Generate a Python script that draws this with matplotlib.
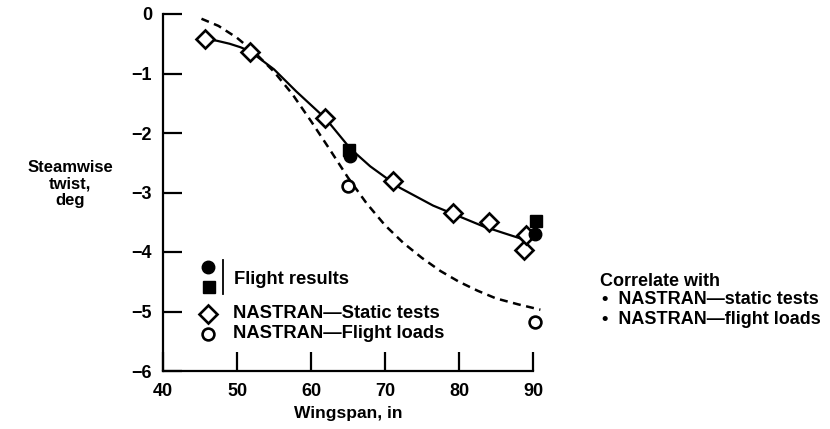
import matplotlib
matplotlib.use("Agg")
import matplotlib.pyplot as plt

plt.rcParams['font.family'] = ['Liberation Sans', 'DejaVu Sans']
plt.rcParams['font.weight'] = 'bold'

# Data
static_x = [45.7, 51.8, 61.9, 71.1, 79.2, 84.0, 88.8, 89.0]
static_y = [-0.42, -0.64, -1.74, -2.81, -3.35, -3.49, -3.96, -3.72]

flight_circle_x = [65.3, 90.3]
flight_circle_y = [-2.38, -3.69]
flight_square_x = [65.2, 90.4]
flight_square_y = [-2.28, -3.48]

loads_x = [65.0, 90.3]
loads_y = [-2.89, -5.17]

static_curve_x = [45.7, 47.3, 49.0, 50.5, 51.8, 55.0, 58.0, 62.0, 65.3, 68.0, 72.0, 76.5, 80.0, 83.3, 86.0, 89.0]
static_curve_y = [-0.42, -0.45, -0.50, -0.56, -0.63, -0.93, -1.30, -1.76, -2.26, -2.56, -2.92, -3.22, -3.40, -3.57, -3.68, -3.80]

loads_curve_x = [45.2, 47.5, 50.0, 52.5, 55.0, 57.5, 60.0, 62.5, 65.0, 67.5, 70.0, 72.5, 75.0, 77.5, 80.0, 82.5, 85.0, 88.0, 91.0]
loads_curve_y = [-0.08, -0.20, -0.40, -0.66, -0.97, -1.35, -1.80, -2.27, -2.75, -3.18, -3.55, -3.85, -4.10, -4.32, -4.50, -4.65, -4.78, -4.88, -4.97]

xticks = [40, 50, 60, 70, 80, 90]
yticks = [0, -1, -2, -3, -4, -5, -6]

fig = plt.figure(figsize=(8.30, 4.29), dpi=100)
ax = fig.add_axes([163/830, 1 - 371/429, (533 - 163)/830, (371 - 14)/429])

ax.plot(static_curve_x, static_curve_y, '-', color='black', lw=1.6, clip_on=False)
ax.plot(loads_curve_x, loads_curve_y, color='black', lw=1.8, dashes=(3.2, 2.2), clip_on=False)

ax.plot(static_x, static_y, 'D', ms=9, mfc='white', mec='black', mew=1.9, clip_on=False, zorder=3)
ax.plot(loads_x, loads_y, 'o', ms=8.5, mfc='white', mec='black', mew=1.9, clip_on=False, zorder=3)
ax.plot(flight_square_x, flight_square_y, 's', ms=8, color='black', clip_on=False, zorder=4)
ax.plot(flight_circle_x, flight_circle_y, 'o', ms=9, color='black', clip_on=False, zorder=4)

ax.set_xlim(40, 90)
ax.set_ylim(-6, 0)
ax.set_xticks(xticks)
ax.set_yticks(yticks)
ax.set_xticklabels([str(v) for v in xticks], fontsize=13, fontweight='bold')
ax.set_yticklabels([('\u2212' + str(-v)) if v < 0 else str(v) for v in yticks], fontsize=13, fontweight='bold')
ax.tick_params(axis='both', direction='in', length=14, width=1.6, color='black')
ax.tick_params(axis='x', pad=9)
ax.tick_params(axis='y', pad=8)
for s in ['top', 'right']:
    ax.spines[s].set_visible(False)
for s in ['left', 'bottom']:
    ax.spines[s].set_linewidth(1.6)

ax.set_xlabel('Wingspan, in', fontsize=12.5, fontweight='bold', labelpad=4)
fig.text(70/830, 1 - 184/429, 'Steamwise\ntwist,\ndeg', ha='center', va='center',
         fontsize=12, fontweight='bold', linespacing=1.1)

# In-plot legend
tr = ax.transAxes
def ax_xy(px, py):
    return ((px - 163) / (533 - 163), (371 - py) / (371 - 14))

for (px, py, m, kw) in [
    (208, 267, 'o', dict(ms=9, color='black')),
    (209, 287, 's', dict(ms=8, color='black')),
    (208, 314, 'D', dict(ms=9, mfc='white', mec='black', mew=1.9)),
    (208, 334, 'o', dict(ms=8.5, mfc='white', mec='black', mew=1.9)),
]:
    x0, y0 = ax_xy(px, py)
    ax.plot([x0], [y0], m, transform=tr, clip_on=False, **kw)

bx, by0 = ax_xy(223, 260)
_, by1 = ax_xy(223, 294)
ax.plot([bx, bx], [by0, by1], color='black', lw=1.3, transform=tr)

for (px, py, txt) in [(234, 279, 'Flight results'),
                      (233, 314, 'NASTRAN\u2014Static tests'),
                      (233, 334, 'NASTRAN\u2014Flight loads')]:
    x0, y0 = ax_xy(px, py)
    ax.text(x0, y0, txt, transform=tr, ha='left', va='center', fontsize=13.2, fontweight='bold')

fig.text(600/830, 1 - 282/429, 'Correlate with', ha='left', va='center', fontsize=13, fontweight='bold')
fig.text(602/830, 1 - 300/429, '\u2022  NASTRAN\u2014static tests', ha='left', va='center', fontsize=13, fontweight='bold')
fig.text(602/830, 1 - 320/429, '\u2022  NASTRAN\u2014flight loads', ha='left', va='center', fontsize=13, fontweight='bold')

fig.savefig('out.png', dpi=100, facecolor='white')
